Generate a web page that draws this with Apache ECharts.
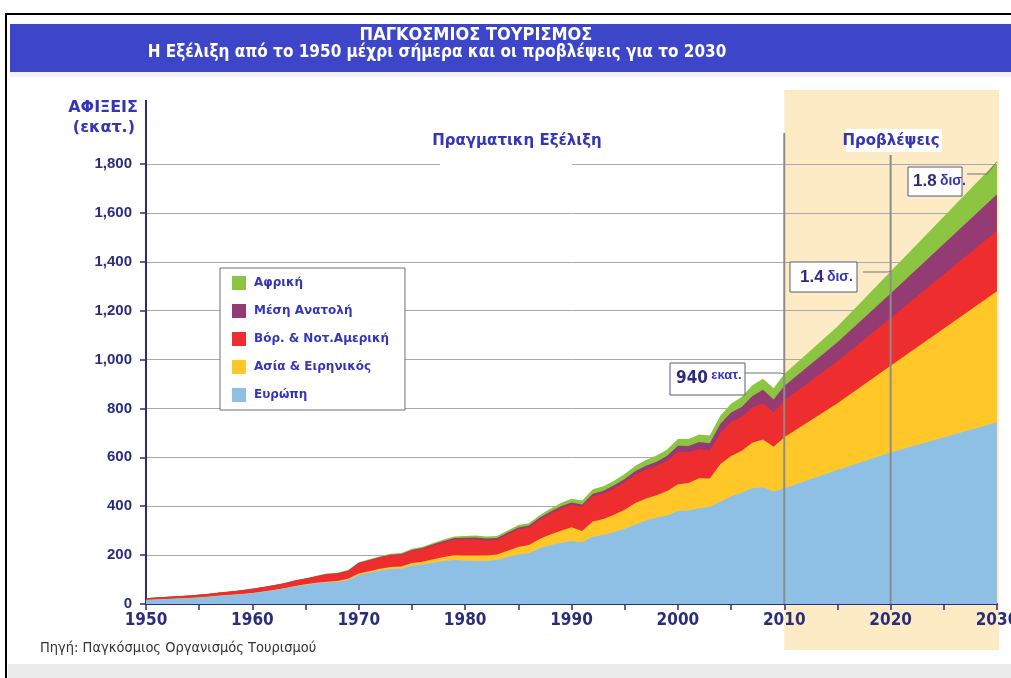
<!DOCTYPE html>
<html>
<head>
<meta charset="utf-8">
<script src="https://cdn.jsdelivr.net/npm/echarts@6/dist/echarts.min.js"></script>
<style>
  html, body { margin: 0; padding: 0; background: #ffffff; overflow: hidden; }
  #chart { width: 1011px; height: 678px; }
</style>
</head>
<body>
<div id="chart"></div>
<script>
// International tourist arrivals by region (millions), actual 1950-2010 and forecasts to 2030
const years = [
  1950, 1951, 1952, 1953, 1954, 1955, 1956, 1957, 1958, 1959,
  1960, 1961, 1962, 1963, 1964, 1965, 1966, 1967, 1968, 1969,
  1970, 1971, 1972, 1973, 1974, 1975, 1976, 1977, 1978, 1979,
  1980, 1981, 1982, 1983, 1984, 1985, 1986, 1987, 1988, 1989,
  1990, 1991, 1992, 1993, 1994, 1995, 1996, 1997, 1998, 1999,
  2000, 2001, 2002, 2003, 2004, 2005, 2006, 2007, 2008, 2009,
  2010, 2015, 2020, 2030
];

const europe = [
  16, 18, 20, 22, 24, 27, 30, 34, 37, 40,
  44, 50, 56, 63, 72, 78, 84, 88, 90, 98,
  119, 128, 137, 143, 145, 158, 162, 170, 176, 180,
  177, 176, 176, 180, 192, 202, 208, 228, 240, 250,
  258, 253, 275, 282, 295, 308, 325, 342, 353, 362,
  380, 382, 392, 398, 418, 440, 455, 474, 478, 460,
  474, 548, 620, 744
];

const asiaPacific = [
  0.2, 0.3, 0.4, 0.5, 0.6, 0.7, 0.8, 0.9, 1.0, 1.1,
  1.2, 1.4, 1.6, 1.8, 2.0, 2.4, 2.8, 3.3, 3.9, 4.8,
  5.5, 6, 7, 8, 8.5, 9.5, 11, 13, 16, 19,
  21, 22, 22, 22, 26, 31, 33, 38, 44, 50,
  56, 46, 62, 66, 70, 78, 88, 90, 92, 100,
  110, 113, 122, 115, 155, 165, 172, 186, 195, 183,
  208, 273, 355, 535
];

const americas = [
  7.5, 8, 8.5, 9, 9.5, 10, 11, 12, 13, 14.5,
  16.5, 17, 18, 19, 21, 23, 26, 30, 30, 32,
  42, 44, 46, 48, 48, 50, 52, 56, 60, 64,
  66, 66, 62, 60, 66, 72, 72, 78, 84, 90,
  92, 100, 104, 104, 108, 112, 116, 118, 120, 124,
  132, 126, 120, 115, 128, 140, 138, 144, 148, 141,
  150, 172, 195, 248
];

const middleEast = [
  0.2, 0.2, 0.25, 0.3, 0.3, 0.35, 0.4, 0.45, 0.5, 0.55,
  0.6, 0.65, 0.7, 0.8, 0.9, 1.0, 1.1, 1.3, 1.5, 1.7,
  1.9, 2.1, 2.5, 2.8, 3.0, 3.5, 4.2, 5.0, 5.8, 6.5,
  7.1, 8, 8, 8, 8, 8.1, 8, 8.5, 9, 9.5,
  9.6, 8.5, 10, 11, 12.5, 13.7, 15, 16, 17, 20,
  24.9, 25, 29, 30, 36, 38, 41, 47, 55, 53,
  60, 78, 100, 149
];

const africa = [
  0.5, 0.5, 0.55, 0.6, 0.6, 0.65, 0.7, 0.7, 0.75, 0.8,
  0.8, 0.9, 1.0, 1.1, 1.2, 1.4, 1.6, 1.8, 2.0, 2.2,
  2.4, 2.8, 3.2, 3.6, 4.2, 4.7, 5.2, 5.8, 6.4, 6.9,
  7.2, 8, 8.3, 8.6, 9, 9.7, 9.5, 10.5, 12.5, 14,
  15.2, 16, 18, 18.5, 19, 20.4, 22, 23.5, 25, 26.5,
  28.3, 29, 30, 31, 34, 36, 41, 44, 45, 46,
  49, 64, 90, 134
];

// Regions from the bottom of the stack upwards
const regionNames = ['Ευρώπη', 'Ασία & Ειρηνικός', 'Βόρ. & Νοτ.Αμερική', 'Μέση Ανατολή', 'Αφρική'];
const regionColors = ['#8ec0e6', '#ffc828', '#ee2e2e', '#953b74', '#8cc541'];
const regionValues = [europe, asiaPacific, americas, middleEast, africa];

// Highlighted totals
const callouts = [
  { year: 2010, total: 940, big: '940', small: 'εκατ.' },
  { year: 2020, total: 1360, big: '1.4', small: 'δισ.' },
  { year: 2030, total: 1810, big: '1.8', small: 'δισ.' }
];

const yTicks = { min: 0, max: 1800, step: 200 };
const xTicks = { min: 1950, max: 2030, step: 10 };
const forecastStart = 2010;
const forecastMid = 2020;

const NAVY = '#2b2d7c';
const BLUE = '#3535b8';
const NARROW = "'Liberation Sans Narrow', 'DejaVu Sans Condensed', 'Arial Narrow', sans-serif";
const SANS = "'Liberation Sans', Arial, sans-serif";
const WIDE = "'DejaVu Sans', Verdana, sans-serif";

const chart = echarts.init(document.getElementById('chart'), null, { renderer: 'canvas' });

// Running totals: each band is filled from the axis up to its cumulative top,
// lower bands are painted over the higher ones.
const running = years.map(() => 0);
const cumulative = regionValues.map(vals => vals.map((v, k) => (running[k] += v)));

const series = regionNames.map((name, i) => ({
  name,
  type: 'line',
  data: years.map((y, k) => [y, cumulative[i][k]]),
  showSymbol: false,
  symbol: 'none',
  smooth: false,
  lineStyle: { width: 0 },
  itemStyle: { color: regionColors[i] },
  areaStyle: { color: regionColors[i], opacity: 1 },
  z: 10 - i
}));

chart.setOption({
  animation: false,
  backgroundColor: 'transparent',
  grid: { left: 146, right: 14, top: 164, bottom: 74, containLabel: false, outerBoundsMode: 'none' },
  legend: {
    data: regionNames.slice().reverse(),
    orient: 'vertical',
    left: 220,
    top: 268,
    itemWidth: 14,
    itemHeight: 14,
    itemGap: 14,
    icon: 'rect',
    padding: [8, 16, 8, 12],
    backgroundColor: '#ffffff',
    borderColor: '#6e6e80',
    borderWidth: 1,
    textStyle: { color: BLUE, fontWeight: 'bold', fontSize: 12, fontFamily: WIDE, padding: [0, 0, 0, 3] },
    selectedMode: false
  },
  xAxis: {
    type: 'value',
    min: xTicks.min,
    max: xTicks.max,
    interval: xTicks.step,
    axisLine: { show: true, lineStyle: { color: NAVY, width: 2 } },
    axisTick: { show: true, length: 6, lineStyle: { color: NAVY, width: 1.5 } },
    minorTick: { show: true, splitNumber: 2, length: 6, lineStyle: { color: NAVY, width: 1.5 } },
    splitLine: { show: false },
    axisLabel: {
      color: NAVY, fontWeight: 'bold', fontSize: 17, fontFamily: NARROW, margin: 8,
      formatter: v => String(v)
    }
  },
  yAxis: {
    type: 'value',
    min: yTicks.min,
    max: yTicks.max,
    interval: yTicks.step,
    axisLine: { show: true, lineStyle: { color: NAVY, width: 2 } },
    axisTick: { show: true, length: 6, lineStyle: { color: NAVY, width: 1.5 } },
    splitLine: { show: true, lineStyle: { color: '#a8a8b0', width: 1 } },
    axisLabel: {
      color: NAVY, fontWeight: 'bold', fontSize: 15, fontFamily: SANS, margin: 14,
      formatter: v => v.toLocaleString('en-US')
    }
  },
  series
});

// Frame, title banner, band and callouts placed from the axis scales
const px = (x, y) => chart.convertToPixel({ gridIndex: 0 }, [x, y]);
const xs = px(forecastStart, 0)[0];
const xm = px(forecastMid, 0)[0];
const xe = px(xTicks.max, 0)[0];
const y0 = px(xTicks.min, 0)[1];
const yTop = px(xTicks.min, yTicks.max)[1];

const elements = [
  // panel frame and shadow
  { type: 'rect', shape: { x: 6, y: 14, width: 1010, height: 670 }, style: { fill: '#ffffff', stroke: '#000000', lineWidth: 2 }, z: -20 },
  { type: 'rect', shape: { x: 8, y: 664, width: 1003, height: 14 }, style: { fill: '#ececec' }, z: -19 },
  { type: 'rect', shape: { x: 10, y: 72, width: 1001, height: 5 }, style: { fill: '#f2f2f4' }, z: -19 },
  // title banner
  { type: 'rect', shape: { x: 10, y: 24, width: 1001, height: 48 }, style: { fill: '#3d46c8' }, z: 20 },
  { type: 'text', x: 476, y: 35, style: { text: 'ΠΑΓΚΟΣΜΙΟΣ ΤΟΥΡΙΣΜΟΣ', fill: '#ffffff', font: 'bold 18px ' + NARROW, align: 'center', verticalAlign: 'middle' }, z: 21 },
  { type: 'text', x: 437, y: 53, style: { text: 'Η Εξέλιξη από το 1950 μέχρι σήμερα και οι προβλέψεις για το 2030', fill: '#ffffff', font: 'bold 17px ' + NARROW, align: 'center', verticalAlign: 'middle' }, z: 21 },
  // forecast band
  { type: 'rect', shape: { x: xs, y: 90, width: xe - xs + 2, height: 560 }, style: { fill: '#fdebc6' }, z: -10 },
  // y axis extension and name
  { type: 'line', shape: { x1: 146, y1: 100, x2: 146, y2: yTop }, style: { stroke: NAVY, lineWidth: 2 }, z: 10 },
  { type: 'text', x: 138, y: 108, style: { text: 'ΑΦΙΞΕΙΣ', fill: BLUE, font: 'bold 16px ' + WIDE, align: 'right', verticalAlign: 'middle' }, z: 10 },
  { type: 'text', x: 135, y: 128, style: { text: '(εκατ.)', fill: BLUE, font: 'bold 16px ' + WIDE, align: 'right', verticalAlign: 'middle' }, z: 10 },
  // period headings
  { type: 'rect', shape: { x: 440, y: 126, width: 132, height: 42 }, style: { fill: '#ffffff' }, z: 3 },
  { type: 'text', x: 517, y: 141, style: { text: 'Πραγματικη Εξέλιξη', fill: BLUE, font: 'bold 15px ' + WIDE, align: 'center', verticalAlign: 'middle' }, z: 10 },
  { type: 'rect', shape: { x: 846, y: 129, width: 96, height: 23 }, style: { fill: '#ffffff' }, z: 3 },
  { type: 'text', x: 891, y: 141, style: { text: 'Προβλέψεις', fill: BLUE, font: 'bold 15px ' + WIDE, align: 'center', verticalAlign: 'middle' }, z: 10 },
  // divider lines at 2010 and 2020
  { type: 'line', shape: { x1: xs, y1: 133, x2: xs, y2: y0 }, style: { stroke: '#8c8c8c', lineWidth: 2 }, z: 30 },
  { type: 'line', shape: { x1: xm, y1: 155, x2: xm, y2: y0 }, style: { stroke: '#8c8c8c', lineWidth: 2 }, z: 30 },
  // source
  { type: 'text', x: 40, y: 648, style: { text: 'Πηγή: Παγκόσμιος Οργανισμός Τουρισμού', fill: '#333333', font: '14.5px ' + NARROW, align: 'left', verticalAlign: 'middle' }, z: 10 }
];

// callout boxes with leader lines to the stack tops
const boxes = [
  { x: 670, y: 363, w: 75, h: 32, tx: 6, bigSize: 17, smallSize: 13, bigFont: NARROW, lineGap: 0 },
  { x: 790, y: 262, w: 67, h: 30, tx: 10, bigSize: 17, smallSize: 14, bigFont: SANS, lineGap: 6 },
  { x: 908, y: 167, w: 54, h: 29, tx: 5, bigSize: 17, smallSize: 14, bigFont: SANS, lineGap: 5 }
];
callouts.forEach((c, i) => {
  const b = boxes[i];
  const p = px(c.year, c.total);
  elements.push({ type: 'rect', shape: { x: b.x, y: b.y, width: b.w, height: b.h }, style: { fill: '#ffffff', stroke: '#5a5a78', lineWidth: 1 }, z: 32 });
  elements.push({
    type: 'text', x: b.x + b.tx, y: b.y + b.h / 2,
    style: {
      text: '{big|' + c.big + '} {small|' + c.small + '}',
      verticalAlign: 'middle', align: 'left',
      rich: {
        big: { fill: NAVY, font: 'bold ' + b.bigSize + 'px ' + b.bigFont },
        small: { fill: BLUE, font: 'bold ' + b.smallSize + 'px ' + SANS, padding: i === 0 ? [0, 0, 8, 0] : [0, 0, 0, 0] }
      }
    }, z: 33
  });
  const ly = i === 2 ? b.y + 7 : b.y + 10;
  const lx = b.x + b.w + b.lineGap;
  elements.push({
    type: 'polyline',
    shape: { points: [[lx, ly], [p[0] - (i === 2 ? 10 : 3), ly], [p[0], p[1]]] },
    style: { stroke: '#707080', lineWidth: 1, fill: null }, z: 31
  });
});

chart.setOption({ graphic: { elements } });
</script>
</body>
</html>
